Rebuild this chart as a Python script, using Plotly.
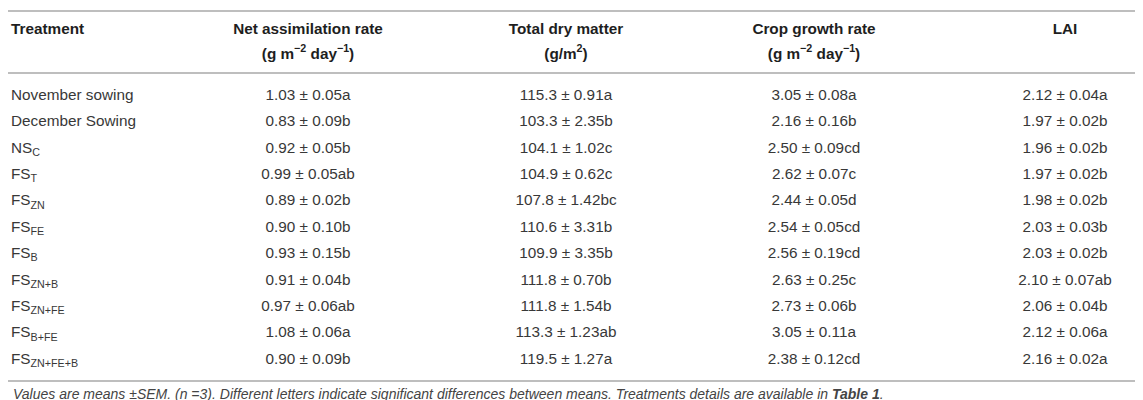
import plotly.graph_objects as go

# ---------------- data ----------------
treatments = ["November sowing", "December Sowing", "NS<sub>C</sub>", "FS<sub>T</sub>",
              "FS<sub>ZN</sub>", "FS<sub>FE</sub>", "FS<sub>B</sub>", "FS<sub>ZN+B</sub>",
              "FS<sub>ZN+FE</sub>", "FS<sub>B+FE</sub>", "FS<sub>ZN+FE+B</sub>"]

nar_mean = [1.03, 0.83, 0.92, 0.99, 0.89, 0.90, 0.93, 0.91, 0.97, 1.08, 0.90]
nar_sem = [0.05, 0.09, 0.05, 0.05, 0.02, 0.10, 0.15, 0.04, 0.06, 0.06, 0.09]
nar_letter = ["a", "b", "b", "ab", "b", "b", "b", "b", "ab", "a", "b"]

tdm_mean = [115.3, 103.3, 104.1, 104.9, 107.8, 110.6, 109.9, 111.8, 111.8, 113.3, 119.5]
tdm_sem = [0.91, 2.35, 1.02, 0.62, 1.42, 3.31, 3.35, 0.70, 1.54, 1.23, 1.27]
tdm_letter = ["a", "b", "c", "c", "bc", "b", "b", "b", "b", "ab", "a"]

cgr_mean = [3.05, 2.16, 2.50, 2.62, 2.44, 2.54, 2.56, 2.63, 2.73, 3.05, 2.38]
cgr_sem = [0.08, 0.16, 0.09, 0.07, 0.05, 0.05, 0.19, 0.25, 0.06, 0.11, 0.12]
cgr_letter = ["a", "b", "cd", "c", "d", "cd", "cd", "c", "b", "a", "cd"]

lai_mean = [2.12, 1.97, 1.96, 1.97, 1.98, 2.03, 2.03, 2.10, 2.06, 2.12, 2.16]
lai_sem = [0.04, 0.02, 0.02, 0.02, 0.02, 0.03, 0.02, 0.07, 0.04, 0.06, 0.02]
lai_letter = ["a", "b", "b", "b", "b", "b", "b", "ab", "b", "a", "a"]

header_titles = ["Treatment", "Net assimilation rate", "Total dry matter",
                 "Crop growth rate", "LAI"]
header_units = ["", "(g m<sup>\u22122</sup> day<sup>\u22121</sup>)", "(g/m<sup>2</sup>)",
                "(g m<sup>\u22122</sup> day<sup>\u22121</sup>)", ""]

footnote = ("Values are means \u00b1SEM. (<i>n</i> =3). Different letters indicate significant "
            "differences between means. Treatments details are available in <b>Table 1</b>.")

# ---------------- layout constants ----------------
W, H = 1143, 400
FONT = "Liberation Sans, Arial, sans-serif"
TXT = "#383838"
HEAD = "#1e1e1e"
RULE = "#a8a8a8"
FS = 15.3
col_x = [3, 300, 558, 806, 1057]
row_y0, row_dy = 88, 26.4
head_y1, head_y2 = 22, 47
rules_y = [3, 65, 373]
foot_y = 386


def fmt(m, s, l, md):
    return f"{m:.{md}f} \u00b1 {s:.2f}{l}"


cols = [
    [fmt(m, s, l, 2) for m, s, l in zip(nar_mean, nar_sem, nar_letter)],
    [fmt(m, s, l, 1) for m, s, l in zip(tdm_mean, tdm_sem, tdm_letter)],
    [fmt(m, s, l, 2) for m, s, l in zip(cgr_mean, cgr_sem, cgr_letter)],
    [fmt(m, s, l, 2) for m, s, l in zip(lai_mean, lai_sem, lai_letter)],
]
row_y = [row_y0 + i * row_dy for i in range(len(treatments))]

fig = go.Figure()

# header, first line
fig.add_trace(go.Scatter(
    x=col_x, y=[head_y1] * len(col_x), mode="text",
    text=header_titles,
    textposition=["middle right"] + ["middle center"] * 4,
    textfont=dict(family=FONT, size=FS, color=HEAD, weight="bold"),
    hoverinfo="skip", showlegend=False))

# header, units line (only columns that have units)
unit_x = [x for x, u in zip(col_x, header_units) if u]
unit_t = [u for u in header_units if u]
fig.add_trace(go.Scatter(
    x=unit_x, y=[head_y2] * len(unit_x), mode="text",
    text=unit_t, textposition="middle center",
    textfont=dict(family=FONT, size=FS, color=HEAD, weight="bold"),
    hoverinfo="skip", showlegend=False))

# treatment labels
fig.add_trace(go.Scatter(
    x=[col_x[0]] * len(treatments), y=row_y, mode="text", text=treatments,
    textposition="middle right",
    textfont=dict(family=FONT, size=FS, color=TXT),
    hoverinfo="skip", showlegend=False))

# value columns
for cx, vals in zip(col_x[1:], cols):
    fig.add_trace(go.Scatter(
        x=[cx] * len(vals), y=row_y, mode="text", text=vals,
        textposition="middle center",
        textfont=dict(family=FONT, size=FS, color=TXT),
        hoverinfo="skip", showlegend=False))

for ry in rules_y:
    fig.add_shape(type="line", xref="x", yref="y", x0=0, x1=W, y0=ry, y1=ry,
                  line=dict(color=RULE, width=1.6))

fig.add_annotation(x=col_x[0], y=foot_y, xref="x", yref="y", text=f"<i>{footnote}</i>",
                   showarrow=False, xanchor="left", yanchor="middle",
                   font=dict(family=FONT, size=14, color="#444444"))

fig.update_layout(
    width=W, height=H, autosize=False,
    margin=dict(l=0, r=0, t=0, b=0),
    paper_bgcolor="white", plot_bgcolor="white",
    xaxis=dict(range=[0, W], visible=False, fixedrange=True),
    yaxis=dict(range=[H, 0], visible=False, fixedrange=True),
)

fig.write_html("out.html")
